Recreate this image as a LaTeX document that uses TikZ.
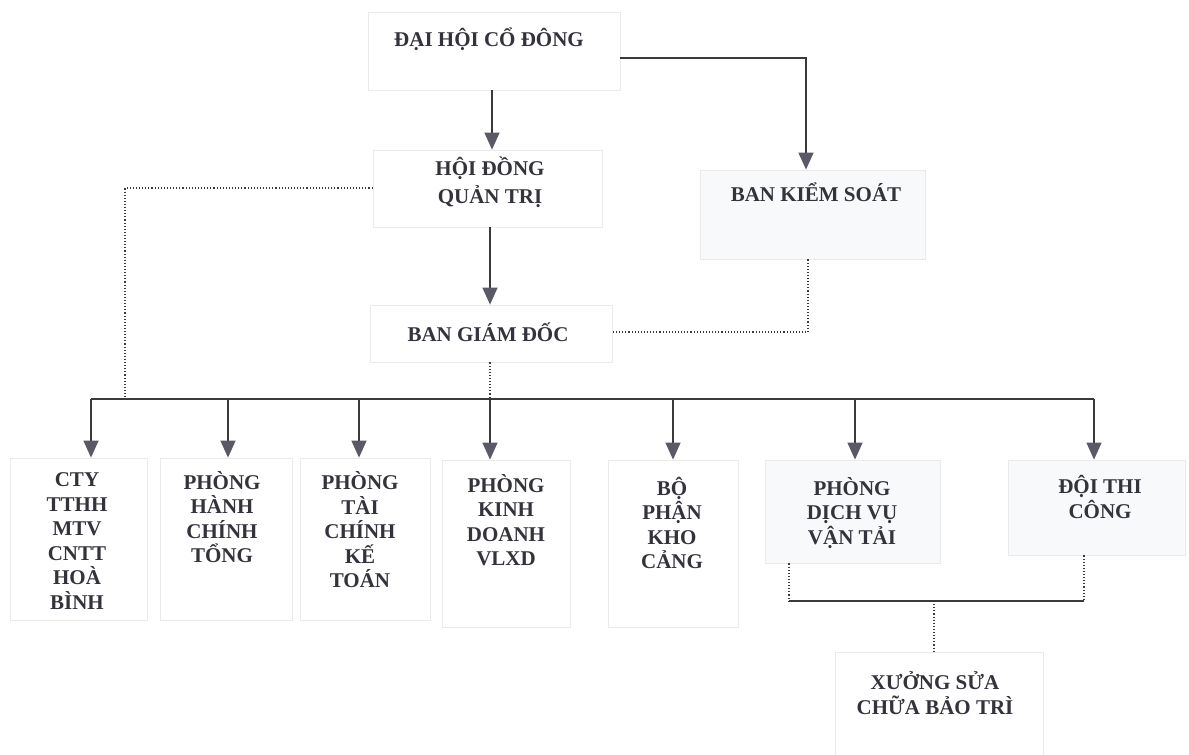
\documentclass[tikz,border=0pt]{standalone}
\usepackage{fontspec}
\setmainfont{Liberation Serif}
\usetikzlibrary{arrows.meta,calc}
\definecolor{txtc}{HTML}{33333B}
\definecolor{linec}{HTML}{3A3A3A}
\definecolor{headc}{HTML}{5A5A66}
\definecolor{boxc}{HTML}{EAEAEA}
\definecolor{boxfill}{HTML}{F8F9FB}
\begin{document}
\begin{tikzpicture}[x=1pt,y=-1pt,
  box/.style={draw=boxc, line width=0.8pt, inner sep=0pt},
  lbl/.style={font=\bfseries\fontsize{21}{24.5}\selectfont, text=txtc, align=center, inner sep=0pt},
  conn/.style={draw=linec, line width=1.4pt},
  arr/.style={conn, -{Triangle[width=15pt,length=17pt,color=headc]}},
  dots/.style={draw=linec, line width=1.1pt, dotted}
]
\useasboundingbox[fill=white] (0,0) rectangle (1189,755);

% boxes
\node[box, minimum width=252pt, minimum height=78pt] (dhcd) at (494,51) {};
\node[box, minimum width=229pt, minimum height=77pt] (hdqt) at (487.5,188.5) {};
\node[box, minimum width=242pt, minimum height=57pt] (bgd) at (491,333.5) {};
\node[box, fill=boxfill, minimum width=225pt, minimum height=89pt] (bks) at (812.5,214.5) {};
\node[box, minimum width=137pt, minimum height=162pt] (cty) at (78.5,539) {};
\node[box, minimum width=132pt, minimum height=162pt] (phc) at (226,539) {};
\node[box, minimum width=130pt, minimum height=162pt] (ptc) at (365,539) {};
\node[box, minimum width=128pt, minimum height=167pt] (pkd) at (506,543.5) {};
\node[box, minimum width=130pt, minimum height=167pt] (bpk) at (673,543.5) {};
\node[box, fill=boxfill, minimum width=175pt, minimum height=103pt] (dvvt) at (852.5,511.5) {};
\node[box, fill=boxfill, minimum width=177pt, minimum height=95pt] (dtc) at (1096.5,507.5) {};
\node[box, minimum width=208pt, minimum height=103pt] (xuong) at (939,703.5) {};

% labels
\node[lbl] (tdhcd) at (489,39) {ĐẠI HỘI CỔ ĐÔNG};
\node[lbl, font=\bfseries\fontsize{21}{28}\selectfont] (thdqt) at (490,182) {HỘI ĐỒNG\\QUẢN TRỊ};
\node[lbl] (tbgd) at (488,332) {BAN GIÁM ĐỐC};
\node[lbl] (tbks) at (816,192) {BAN KIỂM SOÁT};
\node[lbl] (tcty) at (77,541) {CTY\\TTHH\\MTV\\CNTT\\HOÀ\\BÌNH};
\node[lbl] (tphc) at (222,517) {PHÒNG\\HÀNH\\CHÍNH\\TỔNG};
\node[lbl] (tptc) at (360,530) {PHÒNG\\TÀI\\CHÍNH\\KẾ\\TOÁN};
\node[lbl] (tpkd) at (506,520) {PHÒNG\\KINH\\DOANH\\VLXD};
\node[lbl] (tbpk) at (672,523) {BỘ\\PHẬN\\KHO\\CẢNG};
\node[lbl] (tdvvt) at (852,513) {PHÒNG\\DỊCH VỤ\\VẬN TẢI};
\node[lbl] (tdtc) at (1100,497) {ĐỘI THI\\CÔNG};
\node[lbl] (txuong) at (935,693) {XƯỞNG SỬA\\CHỮA BẢO TRÌ};

% helper coordinates
\coordinate (tr) at (806,58);
\coordinate (lc) at (125,188);
\coordinate (kd) at (808,332);
\coordinate (k1) at (91,399);
\coordinate (k2) at (228,399);
\coordinate (k3) at (359,399);
\coordinate (k4) at (490,399);
\coordinate (k5) at (673,399);
\coordinate (k6) at (855,399);
\coordinate (k7) at (1094,399);
\coordinate (j1) at (789,601);
\coordinate (j2) at (1084,601);
\coordinate (j3) at (934,601);

% top connectors
\draw[arr] ([xshift=-2pt]dhcd.south) -- ([xshift=-2pt]dhcd.south |- hdqt.north);
\draw[arr] (tr -| dhcd.east) -- (tr) -- (tr |- bks.north);
\draw[arr] ([xshift=2.5pt]hdqt.south) -- ([xshift=2.5pt]hdqt.south |- bgd.north);
\draw[dots] (lc -| hdqt.west) -- (lc) -- (lc |- k1);
\draw[dots] (kd |- bks.south) -- (kd) -- (kd -| bgd.east);
\draw[dots] ([xshift=-1pt]bgd.south) -- ([xshift=-1pt]bgd.south |- k1);

% bus
\draw[conn] (k1) -- (k7);
\draw[arr] (k1) -- (k1 |- cty.north);
\draw[arr] (k2) -- (k2 |- phc.north);
\draw[arr] (k3) -- (k3 |- ptc.north);
\draw[arr] (k4) -- (k4 |- pkd.north);
\draw[arr] (k5) -- (k5 |- bpk.north);
\draw[arr] (k6) -- (k6 |- dvvt.north);
\draw[arr] (k7) -- (k7 |- dtc.north);

% bottom
\draw[dots] (j1 |- dvvt.south) -- (j1);
\draw[dots] (j2 |- dtc.south) -- (j2);
\draw[conn] (j1) -- (j2);
\draw[dots] (j3) -- (j3 |- xuong.north);
\end{tikzpicture}
\end{document}
